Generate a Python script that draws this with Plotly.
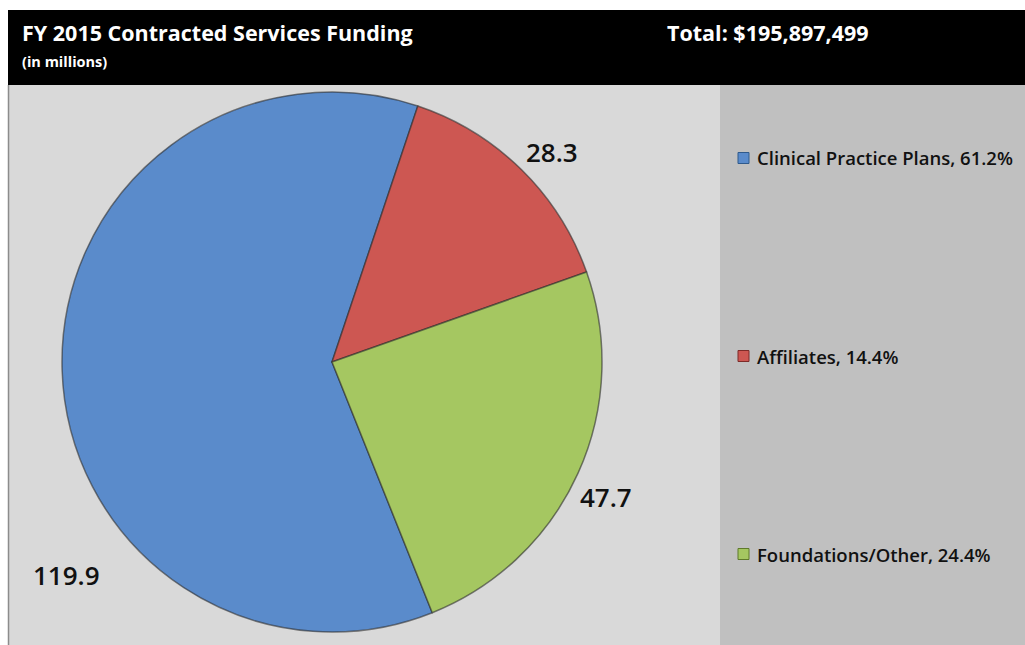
import plotly.graph_objects as go

# Funding by contractor type, in millions of dollars
categories = ["Clinical Practice Plans", "Affiliates", "Foundations/Other"]
values_musd = [119.9, 28.3, 47.7]
share_labels = ["61.2%", "14.4%", "24.4%"]
title_text = "FY 2015 Contracted Services Funding"
subtitle_text = "(in millions)"
total_text = "Total: $195,897,499"

slice_colors = ["#5a8bcb", "#cd5752", "#a5c761"]
edge_colors = ["#2f5a8c", "#7d2b28", "#5f7a2a"]

FONT = "'Open Sans', Lato, sans-serif"
W, H = 1025, 645


def px(x):
    return x / W


def py(y):
    return 1 - y / H


fig = go.Figure()

# Pie centred at (332, 362) px with a 270 px radius
cx, cy, r = 332, 362, 270
fig.add_trace(go.Pie(
    labels=categories,
    values=values_musd,
    sort=False,
    direction="clockwise",
    rotation=158.2,
    marker=dict(colors=slice_colors, line=dict(color="rgba(45,45,45,0.6)", width=1.5)),
    textinfo="none",
    hoverinfo="label+value+percent",
    showlegend=False,
    domain=dict(x=[px(cx - r), px(cx + r)], y=[py(cy + r), py(cy - r)]),
))

shapes = [
    # chart panels
    dict(type="rect", xref="paper", yref="paper", x0=px(8), x1=px(720), y0=0, y1=py(85),
         fillcolor="#d9d9d9", line=dict(width=0), layer="below"),
    dict(type="rect", xref="paper", yref="paper", x0=px(720), x1=1, y0=0, y1=py(85),
         fillcolor="#c0c0c0", line=dict(width=0), layer="below"),
    dict(type="line", xref="paper", yref="paper", x0=px(8.5), x1=px(8.5), y0=0, y1=py(85),
         line=dict(color="#8c8c8c", width=1.5), layer="below"),
    # header band
    dict(type="rect", xref="paper", yref="paper", x0=px(8), x1=1, y0=py(85), y1=py(10),
         fillcolor="#000000", line=dict(width=0), layer="below"),
]

annotations = [
    dict(text="<b>" + title_text + "</b>", x=px(20), y=py(33), xanchor="left", yanchor="middle",
         font=dict(family=FONT, size=21.5, color="white")),
    dict(text="<b>" + subtitle_text + "</b>", x=px(20), y=py(62), xanchor="left", yanchor="middle",
         font=dict(family=FONT, size=14.5, color="white")),
    dict(text="<b>" + total_text + "</b>", x=px(665), y=py(33), xanchor="left", yanchor="middle",
         font=dict(family=FONT, size=21.5, color="white")),
]

# value labels around the pie
value_positions = [(66, 575), (552, 152), (606, 497)]
for v, (x, y) in zip(values_musd, value_positions):
    annotations.append(dict(text=f"{v:.1f}", x=px(x), y=py(y), xanchor="center", yanchor="middle",
                            font=dict(family=FONT, size=26, color="#111111", weight=600)))

# legend entries
legend_rows = [158, 356, 554]
for name, share, color, edge, y in zip(categories, share_labels, slice_colors, edge_colors, legend_rows):
    shapes.append(dict(type="rect", xref="paper", yref="paper", x0=px(738), x1=px(749),
                       y0=py(y + 5.5), y1=py(y - 5.5), fillcolor=color,
                       line=dict(color=edge, width=1)))
    annotations.append(dict(text=f"{name}, {share}", x=px(755), y=py(y), xanchor="left", yanchor="middle",
                            font=dict(family=FONT, size=18.5, color="#111111", weight=600)))

for a in annotations:
    a.update(xref="paper", yref="paper", showarrow=False)

fig.update_layout(
    width=W, height=H,
    margin=dict(l=0, r=0, t=0, b=0),
    paper_bgcolor="white",
    plot_bgcolor="white",
    shapes=shapes,
    annotations=annotations,
)

fig.write_html("out.html")
